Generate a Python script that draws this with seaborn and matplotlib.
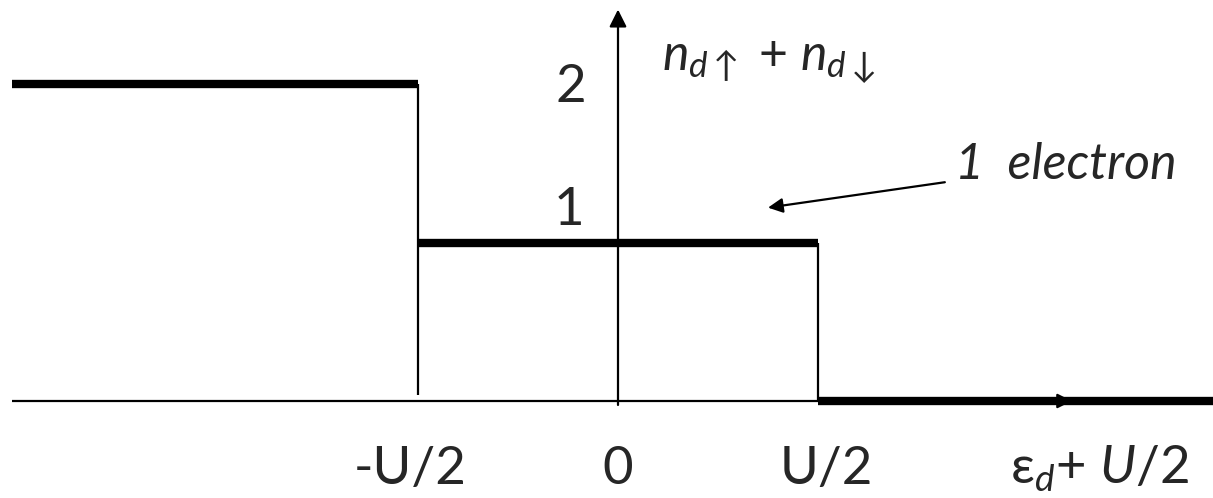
import numpy as np
import pandas as pd
import matplotlib
matplotlib.use("Agg")
import matplotlib.pyplot as plt
import seaborn as sns

# ── Data ──────────────────────────────────────────────────────────────────────
step_edges  = [-3.03, -1.0, 1.0, 2.98]     # eps_d + U/2 (in units of U/2)
step_levels = [2, 1, 0]                    # n_d_up + n_d_down
tick_pos    = [-1, 0, 1]
tick_labels = ["-U/2", "0", "U/2"]

# ── Style ─────────────────────────────────────────────────────────────────────
sns.set_theme(style="white")
plt.rcParams["font.family"] = ["Lato", "DejaVu Sans"]
plt.rcParams["mathtext.fontset"] = "custom"
plt.rcParams["mathtext.rm"] = "Lato"
plt.rcParams["mathtext.it"] = "Lato:italic"
plt.rcParams["mathtext.bf"] = "Lato:bold"
plt.rcParams["mathtext.fallback"] = "stixsans"

fig = plt.figure(figsize=(12.13, 4.98), dpi=100)
ax = fig.add_axes([0, 0, 1, 1])
ax.set_xlim(-3.09, 2.975)
ax.set_ylim(-0.612, 2.53)
ax.axis("off")

# thick plateaus, one segment per level
seg = pd.DataFrame({
    "x": [v for i in range(len(step_levels)) for v in (step_edges[i], step_edges[i + 1])],
    "y": [v for lvl in step_levels for v in (lvl, lvl)],
    "seg": [i for i in range(len(step_levels)) for _ in (0, 1)],
})
sns.lineplot(data=seg, x="x", y="y", units="seg", estimator=None,
             color="black", linewidth=6, solid_capstyle="butt",
             legend=False, ax=ax)

# thin risers between plateaus
ax.vlines(step_edges[1], 0.04, step_levels[0], color="black", linewidth=1.6)
ax.vlines(step_edges[2], step_levels[2], step_levels[1], color="black", linewidth=1.6)

# axes with arrows
ax.hlines(0, step_edges[0], step_edges[-1], color="black", linewidth=1.6)
ax.annotate("", xy=(2.27, 0), xytext=(2.1, 0),
            arrowprops=dict(arrowstyle="-|>", color="black", lw=1.6,
                            mutation_scale=22, shrinkA=0, shrinkB=0))
ax.annotate("", xy=(0, 2.47), xytext=(0, -0.025),
            arrowprops=dict(arrowstyle="-|>", color="black", lw=1.6,
                            mutation_scale=26, shrinkA=0, shrinkB=0))

# level labels
ax.text(-0.235, step_levels[0] - 0.02, "2", fontsize=38, ha="center", va="center")
ax.text(-0.245, step_levels[1] + 0.2, "1", fontsize=38, ha="center", va="center")
ax.text(0.22, 2.135, r"$n_{d\uparrow}$ + $n_{d\downarrow}$", fontsize=36,
        ha="left", va="center")

# annotation
ax.annotate("1  electron", xy=(0.75, 1.22), xytext=(1.685, 1.49),
            fontsize=36, style="italic", ha="left", va="center",
            arrowprops=dict(arrowstyle="-|>", color="black", lw=1.6,
                            mutation_scale=22, shrinkA=5, shrinkB=0))

# x labels
for p, lab in zip(tick_pos, tick_labels):
    ax.text(p + 0.04 * p, -0.43, lab, fontsize=38, ha="center", va="center")
ax.text(1.96, -0.43, r"ε${}_d$+ $U$/2", fontsize=38, ha="left", va="center")

fig.savefig("out.png", dpi=100)
